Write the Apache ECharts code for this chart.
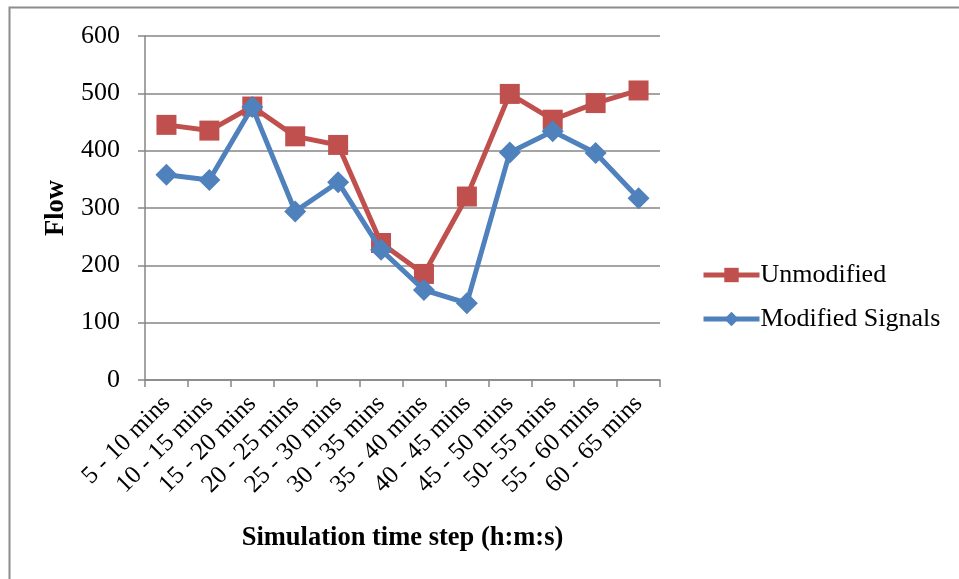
<!DOCTYPE html>
<html>
<head>
<meta charset="utf-8">
<script src="https://cdn.jsdelivr.net/npm/echarts@6/dist/echarts.min.js"></script>
<style>
  html, body { margin: 0; padding: 0; background: #fff; }
  #chart { width: 959px; height: 579px; }
</style>
</head>
<body>
<div id="chart"></div>
<script>
// Time-step categories along the x axis
const categories = ['5 - 10 mins', '10 - 15 mins', '15 - 20 mins', '20 - 25 mins', '25 - 30 mins',
  '30 - 35 mins', '35 - 40 mins', '40 - 45 mins', '45 - 50 mins', '50- 55 mins', '55 - 60 mins', '60 - 65 mins'];

// Flow per time step
const unmodified = [445, 435, 477, 425, 410, 239, 185, 320, 499, 454, 483, 505];
const modifiedSignals = [358, 349, 476, 294, 345, 227, 157, 134, 397, 434, 396, 317];

const yTicks = { min: 0, max: 600, interval: 100 };

const FONT = '"Liberation Serif", "Times New Roman", serif';
const AXIS_GRAY = '#868686';
const RED = '#C0504D';
const BLUE = '#4F81BD';

const chart = echarts.init(document.getElementById('chart'), null, { renderer: 'canvas' });

chart.setOption({
  backgroundColor: '#ffffff',
  animation: false,
  textStyle: { fontFamily: FONT, color: '#000' },
  graphic: [
    {
      type: 'polyline',
      shape: { points: [[9.5, 600], [9.5, 7.5], [980, 7.5]] },
      style: { stroke: '#8c8c8c', lineWidth: 2, fill: null }
    }
  ],
  grid: { left: 145, right: 299, top: 36, bottom: 199 },
  legend: {
    orient: 'vertical',
    left: 696,
    top: 257,
    itemWidth: 56,
    itemHeight: 18,
    itemGap: 18,
    textStyle: { fontFamily: FONT, fontSize: 26, color: '#000', padding: [0, 0, 0, -4] },
    data: [
      { name: 'Unmodified', lineStyle: { width: 5, color: RED } },
      { name: 'Modified Signals', lineStyle: { width: 5, color: BLUE } }
    ]
  },
  xAxis: {
    type: 'category',
    data: categories,
    boundaryGap: true,
    name: 'Simulation time step (h:m:s)',
    nameLocation: 'middle',
    nameGap: 145,
    nameTextStyle: { fontFamily: FONT, fontSize: 26.5, fontWeight: 'bold', color: '#000' },
    axisLine: { lineStyle: { color: AXIS_GRAY, width: 1.5 } },
    axisTick: { show: true, length: 7, lineStyle: { color: AXIS_GRAY, width: 1.5 } },
    axisLabel: {
      interval: 0,
      rotate: 45,
      margin: 20,
      fontFamily: FONT,
      fontSize: 25,
      color: '#000'
    },
    splitLine: { show: false }
  },
  yAxis: {
    type: 'value',
    min: yTicks.min,
    max: yTicks.max,
    interval: yTicks.interval,
    name: 'Flow',
    nameLocation: 'middle',
    nameGap: 69,
    nameRotate: 90,
    nameTextStyle: { fontFamily: FONT, fontSize: 26.5, fontWeight: 'bold', color: '#000' },
    axisLine: { show: true, lineStyle: { color: AXIS_GRAY, width: 1.5 } },
    axisTick: { show: true, length: 7, lineStyle: { color: AXIS_GRAY, width: 1.5 } },
    axisLabel: { fontFamily: FONT, fontSize: 26, color: '#000', margin: 25 },
    splitLine: { show: true, lineStyle: { color: AXIS_GRAY, width: 1.5 } }
  },
  series: [
    {
      name: 'Unmodified',
      type: 'line',
      data: unmodified,
      symbol: 'rect',
      symbolSize: 20,
      lineStyle: { color: RED, width: 5 },
      itemStyle: { color: RED },
      z: 2
    },
    {
      name: 'Modified Signals',
      type: 'line',
      data: modifiedSignals,
      symbol: 'diamond',
      symbolSize: 22,
      lineStyle: { color: BLUE, width: 5 },
      itemStyle: { color: BLUE },
      z: 3
    }
  ]
});
</script>
</body>
</html>
